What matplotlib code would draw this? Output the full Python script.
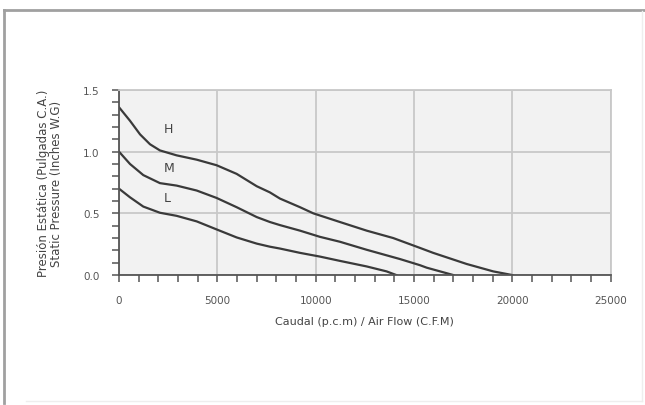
import matplotlib
matplotlib.use("Agg")
import matplotlib.pyplot as plt
from matplotlib.lines import Line2D

# curve points (CFM, inches W.G.)
h_x = [0, 560, 1070, 1575, 2080, 2930, 3950, 4960, 5980, 7000, 7670, 8180, 9200,
       9880, 11230, 12590, 13940, 14280, 15300, 15970, 17670, 19020, 20000]
h_y = [1.36, 1.25, 1.14, 1.06, 1.01, 0.97, 0.935, 0.89, 0.82, 0.72, 0.67, 0.62, 0.55,
       0.50, 0.43, 0.36, 0.30, 0.28, 0.22, 0.18, 0.09, 0.03, 0.0]
m_x = [0, 560, 1235, 2080, 2930, 3950, 4960, 5980, 7000, 7670, 8180, 9200, 10210,
       11230, 12590, 13940, 14280, 15300, 15640, 17000]
m_y = [1.0, 0.90, 0.81, 0.745, 0.725, 0.685, 0.625, 0.55, 0.47, 0.43, 0.405, 0.36, 0.31,
       0.27, 0.205, 0.145, 0.13, 0.08, 0.06, 0.0]
l_x = [0, 560, 1235, 2080, 2930, 3950, 4960, 5980, 7000, 7670, 8180, 9200, 10210,
       11230, 12590, 13600, 14100]
l_y = [0.70, 0.63, 0.555, 0.505, 0.48, 0.435, 0.37, 0.305, 0.255, 0.23, 0.215, 0.18, 0.15,
       0.115, 0.07, 0.03, 0.0]

labels = ["H", "M", "L"]
label_x = [2300, 2300, 2250]
label_y = [1.19, 0.87, 0.63]

fig = plt.figure(figsize=(6.45, 4.06), dpi=100)
ax = fig.add_axes([0.1845, 0.320, 0.7625, 0.456])
ax.set_facecolor("#f2f2f2")

for xs, ys in [(h_x, h_y), (m_x, m_y), (l_x, l_y)]:
    ax.plot(xs, ys, color="#3a3a3a", lw=1.6, solid_joinstyle="round")

for t, x, y in zip(labels, label_x, label_y):
    ax.text(x, y, t, color="#444444", fontsize=9, ha="left", va="center")

ax.set_xlim(0, 25000)
ax.set_ylim(0, 1.5)
ax.set_xticks([0, 5000, 10000, 15000, 20000, 25000])
ax.set_xticks(range(0, 25001, 1000), minor=True)
ax.set_yticks([0.0, 0.5, 1.0, 1.5])
ax.set_yticks([i / 10 for i in range(16)], minor=True)
ax.set_yticklabels(["0.0", "0.5", "1.0", "1.5"])
ax.grid(True, which="major", color="#c8c8c8", lw=1.3)
ax.set_axisbelow(True)

for s in ["top", "right"]:
    ax.spines[s].set_color("#c8c8c8")
    ax.spines[s].set_linewidth(1.3)
for s in ["left", "bottom"]:
    ax.spines[s].set_color("#555555")
    ax.spines[s].set_linewidth(1.3)

ax.tick_params(which="both", direction="out", color="#555555", width=1.1, length=5,
               labelsize=7.5, labelcolor="#555555")
ax.tick_params(axis="x", pad=9)
ax.tick_params(axis="y", pad=9)

ax.set_xlabel("Caudal (p.c.m) / Air Flow (C.F.M)", fontsize=8, color="#444444", labelpad=8)
ax.set_ylabel("Presión Estática (Pulgadas C.A.)\nStatic Pressure (Inches W.G)",
              fontsize=8.5, color="#444444", labelpad=14, linespacing=1.0)

# outer frame of the image
fig.add_artist(Line2D([0.006, 0.998], [0.973, 0.973], transform=fig.transFigure, color="#a0a0a0", lw=2))
fig.add_artist(Line2D([0.006, 0.006], [0.005, 0.973], transform=fig.transFigure, color="#a0a0a0", lw=2))
fig.add_artist(Line2D([0.995, 0.995], [0.01, 0.97], transform=fig.transFigure, color="#eeeeee", lw=1))
fig.add_artist(Line2D([0.04, 0.995], [0.01, 0.01], transform=fig.transFigure, color="#eeeeee", lw=1))

fig.savefig("out.png", dpi=100)
